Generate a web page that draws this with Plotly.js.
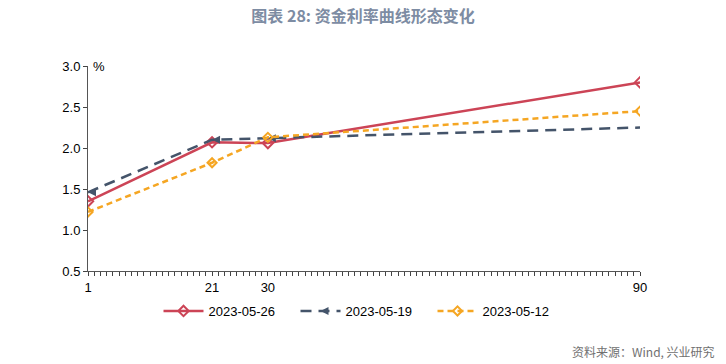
<!DOCTYPE html>
<html><head><meta charset="utf-8">
<script src="https://cdn.plot.ly/plotly-3.0.1.min.js"></script>
<style>html,body{margin:0;padding:0;background:#fff}#c{width:726px;height:364px}</style>
</head><body><div id="c"></div>
<script>
const tenors = [1, 21, 30, 90];
const tickLabels = ['1', '21', '30', '90'];
const s0526 = [1.35, 2.07, 2.06, 2.80];
const s0519 = [1.46, 2.10, 2.12, 2.25];
const s0512 = [1.22, 1.82, 2.13, 2.45];
const names = ['2023-05-26', '2023-05-19', '2023-05-12'];

const tv = [], tt = [];
for (let i = 1; i <= 90; i++) { tv.push(i); const k = tenors.indexOf(i); tt.push(k >= 0 ? tickLabels[k] : ''); }

const traces = [
  {x: tenors, y: s0526, name: names[0], mode: 'lines+markers',
   line: {color: '#cc4456', width: 2.5},
   marker: {symbol: 'diamond-open', size: 8, color: '#cc4456', line: {width: 2, color: '#cc4456'}}},
  {x: tenors, y: s0519, name: names[1], mode: 'lines+markers',
   line: {color: '#44546a', width: 2.5, dash: '11px,7px'},
   marker: {symbol: 'arrow-left', size: 8, color: '#44546a'}},
  {x: tenors, y: s0512, name: names[2], mode: 'lines+markers',
   line: {color: '#f5a623', width: 2.5, dash: '6px,4px'},
   marker: {symbol: 'diamond-open', size: 7, color: '#f5a623', line: {width: 2, color: '#f5a623'}}}
];

const layout = {
  width: 726, height: 364,
  margin: {l: 88, r: 86, t: 66, b: 93},
  paper_bgcolor: '#fff', plot_bgcolor: '#fff',
  font: {family: '"Liberation Sans Narrow", "Liberation Sans", sans-serif', size: 13, color: '#000'},
  title: {text: '<b>图表 28: 资金利率曲线形态变化</b>', x: 0.5, xanchor: 'center', y: 0.955, yanchor: 'middle',
          font: {family: '"Noto Sans CJK SC", sans-serif', size: 16, color: '#7d8ca3'}},
  xaxis: {range: [1, 90], tickmode: 'array', tickvals: tv, ticktext: tt,
          ticks: 'outside', ticklen: 4, tickcolor: '#444', tickwidth: 1,
          showline: true, linecolor: '#555', linewidth: 1, showgrid: false, zeroline: false,
          tickfont: {size: 13}},
  yaxis: {range: [0.5, 3.0], tickmode: 'array', tickvals: [0.5, 1.0, 1.5, 2.0, 2.5, 3.0],
          ticktext: ['0.5', '1.0', '1.5', '2.0', '2.5', '3.0'],
          ticks: 'outside', ticklen: 4, tickcolor: '#444',
          showline: true, linecolor: '#555', linewidth: 1, showgrid: false, zeroline: false,
          tickfont: {size: 13}},
  showlegend: true,
  legend: {orientation: 'h', x: 0.5, xanchor: 'center', y: -0.195, yanchor: 'middle',
           font: {size: 13}, itemwidth: 40, traceorder: 'normal', entrywidth: 82},
  annotations: [
    {text: '%', xref: 'paper', yref: 'paper', x: 0.005, y: 1.0, xanchor: 'left', yanchor: 'middle',
     showarrow: false, font: {size: 13}},
    {text: '资料来源：Wind, 兴业研究', xref: 'paper', yref: 'paper', x: 1.139, y: -0.395,
     xanchor: 'right', yanchor: 'middle', showarrow: false,
     font: {family: '"Noto Sans CJK SC", sans-serif', size: 12, color: '#707070'}}
  ]
};
Plotly.newPlot('c', traces, layout, {displayModeBar: false, staticPlot: true});
</script></body></html>
